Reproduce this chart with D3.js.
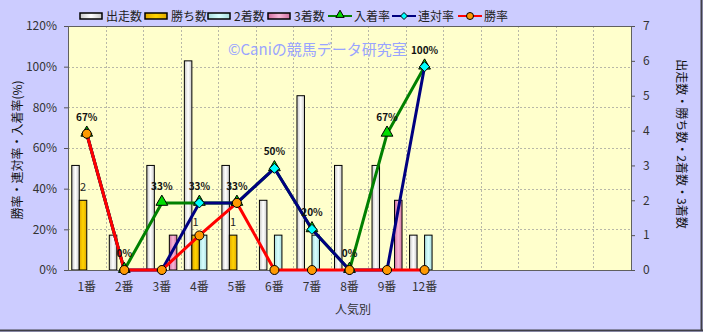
<!DOCTYPE html>
<html>
<head>
<meta charset="utf-8">
<script src="https://cdn.jsdelivr.net/npm/d3@7"></script>
<style>
  html, body { margin: 0; padding: 0; background: #fff; }
  svg { display: block; }
  text { font-family: "Noto Sans CJK JP", "DejaVu Sans", sans-serif; }
</style>
</head>
<body>
<svg id="chart" width="703" height="332"></svg>
<script>
// categories (15 slots on the axis, only the first 10 are used)
const categories = ["1番", "2番", "3番", "4番", "5番", "6番", "7番", "8番", "9番", "12番"];
const slotCount = 15;

// counts (right axis)
const starts = [3, 1, 3, 6, 3, 2, 5, 3, 3, 1];   // 出走数
const wins = [2, 0, 0, 1, 1, 0, 0, 0, 0, 0];     // 勝ち数
const seconds = [0, 0, 0, 1, 0, 1, 1, 0, 0, 1];  // 2着数
const thirds = [0, 0, 1, 0, 0, 0, 0, 0, 2, 0];   // 3着数

// rates in % (left axis)
const placeRate = [67, 0, 33, 33, 33, 50, 20, 0, 67, 100]; // 入着率
const quinellaRate = [67, 0, 0, 33, 33, 50, 20, 0, 0, 100]; // 連対率
const winRate = [67, 0, 0, 17, 33, 0, 0, 0, 0, 0];          // 勝率

const leftTicks = [0, 20, 40, 60, 80, 100, 120];
const rightTicks = [0, 1, 2, 3, 4, 5, 6, 7];

const W = 703, H = 332;
const plot = { left: 68, right: 631, top: 26, bottom: 270 };

const svg = d3.select("#chart");

// gradients for bars
const defs = svg.append("defs");
function barGrad(id, edge, mid) {
    const g = defs.append("linearGradient").attr("id", id)
        .attr("x1", "0%").attr("x2", "100%").attr("y1", "0%").attr("y2", "0%");
    g.append("stop").attr("offset", "0%").attr("stop-color", edge);
    g.append("stop").attr("offset", "50%").attr("stop-color", mid);
    g.append("stop").attr("offset", "100%").attr("stop-color", edge);
}
barGrad("g-white", "#c8c8c8", "#ffffff");
barGrad("g-gold", "#e0a800", "#ffd400");
barGrad("g-cyan", "#a8dcdc", "#d8ffff");
barGrad("g-pink", "#d070a0", "#f8b8d8");

// background
svg.append("rect").attr("x", 0).attr("y", 0).attr("width", W).attr("height", H).attr("fill", "#ccccff");
svg.append("line").attr("x1", 701.5).attr("x2", 701.5).attr("y1", 0).attr("y2", 331).attr("stroke", "#404048").attr("stroke-width", 2);
svg.append("line").attr("x1", 0).attr("x2", 703).attr("y1", 330.5).attr("y2", 330.5).attr("stroke", "#404048").attr("stroke-width", 2);

svg.append("rect")
    .attr("x", plot.left).attr("y", plot.top)
    .attr("width", plot.right - plot.left).attr("height", plot.bottom - plot.top)
    .attr("fill", "#ffffcc");

// scales
const x = d3.scaleBand().domain(d3.range(slotCount)).range([plot.left, plot.right]).padding(0);
const yL = d3.scaleLinear().domain([0, 120]).range([plot.bottom, plot.top]);
const yR = d3.scaleLinear().domain([0, 7]).range([plot.bottom, plot.top]);
const seriesKeys = ["starts", "wins", "seconds", "thirds"];
const sub = d3.scaleBand().domain(seriesKeys).range([0, 30]).padding(0);
const groupOffset = (x.bandwidth() - 30) / 2;

// gridlines
const grid = svg.append("g").attr("stroke", "#b8b8a8").attr("stroke-dasharray", "2,2").attr("stroke-width", 1);
leftTicks.slice(1, -1).forEach(t => {
    grid.append("line").attr("x1", plot.left).attr("x2", plot.right)
        .attr("y1", Math.round(yL(t)) + 0.5).attr("y2", Math.round(yL(t)) + 0.5);
});
d3.range(1, slotCount).forEach(i => {
    const gx = Math.round(x(i)) + 0.5;
    grid.append("line").attr("x1", gx).attr("x2", gx).attr("y1", plot.top).attr("y2", plot.bottom);
});

// bars
const barSeries = [
    { key: "starts", values: starts, fill: "url(#g-white)" },
    { key: "wins", values: wins, fill: "url(#g-gold)" },
    { key: "seconds", values: seconds, fill: "url(#g-cyan)" },
    { key: "thirds", values: thirds, fill: "url(#g-pink)" }
];
const barsG = svg.append("g");
barSeries.forEach(s => {
    barsG.selectAll(null).data(s.values.map((v, i) => ({ v, i })).filter(d => d.v > 0))
        .enter().append("rect")
        .attr("x", d => x(d.i) + groupOffset + sub(s.key))
        .attr("y", d => yR(d.v))
        .attr("width", sub.bandwidth())
        .attr("height", d => yR(0) - yR(d.v))
        .attr("fill", s.fill)
        .attr("stroke", "#000")
        .attr("stroke-width", 1);
});

// win count labels
barsG.selectAll(null).data(wins.map((v, i) => ({ v, i })).filter(d => d.v > 0))
    .enter().append("text")
    .attr("x", d => x(d.i) + groupOffset + sub("wins") + sub.bandwidth() / 2)
    .attr("y", d => yR(d.v) - 9)
    .attr("text-anchor", "middle")
    .attr("font-size", 11).attr("fill", "#222")
    .text(d => d.v);

// plot frame
svg.append("rect")
    .attr("x", plot.left + 0.5).attr("y", plot.top + 0.5)
    .attr("width", plot.right - plot.left).attr("height", plot.bottom - plot.top)
    .attr("fill", "none").attr("stroke", "#606060").attr("stroke-width", 1);

// lines
const cx = i => x(i) + x.bandwidth() / 2;
const lineSeries = [
    { name: "入着率", values: placeRate, color: "#008000", marker: "triangle", mfill: "#00dd00" },
    { name: "連対率", values: quinellaRate, color: "#000080", marker: "diamond", mfill: "#00ffff" },
    { name: "勝率", values: winRate, color: "#ff0000", marker: "circle", mfill: "#ff9900" }
];
function drawMarker(g, type, mx, my, fill) {
    if (type === "triangle") {
        g.append("path").attr("d", d3.symbol(d3.symbolTriangle, 60)()).attr("transform", `translate(${mx},${my - 1})`)
            .attr("fill", fill).attr("stroke", "#000").attr("stroke-width", 1);
    } else if (type === "diamond") {
        g.append("path").attr("d", `M0,-5L5,0L0,5L-5,0Z`).attr("transform", `translate(${mx},${my})`)
            .attr("fill", fill).attr("stroke", "#000").attr("stroke-width", 1);
    } else {
        g.append("circle").attr("cx", mx).attr("cy", my).attr("r", 4.5)
            .attr("fill", fill).attr("stroke", "#000").attr("stroke-width", 1);
    }
}
const linesG = svg.append("g");
const lineGen = d3.line().x((d, i) => cx(i)).y(d => yL(d));
lineSeries.forEach(s => {
    linesG.append("path").datum(s.values).attr("d", lineGen)
        .attr("fill", "none").attr("stroke", s.color).attr("stroke-width", 3);
});
lineSeries.forEach(s => {
    s.values.forEach((v, i) => drawMarker(linesG, s.marker, cx(i), yL(v), s.mfill));
});

// percent labels (入着率)
svg.append("g").selectAll("text").data(placeRate).enter().append("text")
    .attr("x", (d, i) => cx(i))
    .attr("y", d => yL(d) - 13)
    .attr("text-anchor", "middle")
    .attr("font-size", 10).attr("font-weight", "bold")
    .attr("font-family", "DejaVu Sans Mono, monospace")
    .attr("fill", "#111")
    .text(d => d + "%");

// watermark
svg.append("text").attr("x", 228).attr("y", 55)
    .attr("font-size", 15).attr("fill", "#99a4ff")
    .text("©Caniの競馬データ研究室");

// left axis
const axisL = svg.append("g").attr("transform", `translate(${plot.left},0)`)
    .call(d3.axisLeft(yL).tickValues(leftTicks).tickSize(4).tickFormat(d => d + "%"));
axisL.select(".domain").remove();
axisL.selectAll("text").attr("font-size", 12).attr("fill", "#333").attr("font-family", "Liberation Sans, Arial, sans-serif").attr("x", -11);
axisL.selectAll("line").attr("stroke", "#555");

// right axis
const axisR = svg.append("g").attr("transform", `translate(${plot.right},0)`)
    .call(d3.axisRight(yR).tickValues(rightTicks).tickSize(4).tickFormat(d3.format("d")));
axisR.select(".domain").remove();
axisR.selectAll("text").attr("font-size", 12).attr("fill", "#333").attr("font-family", "Liberation Sans, Arial, sans-serif").attr("x", 12);
axisR.selectAll("line").attr("stroke", "#555");

// x labels
svg.append("g").selectAll("text").data(categories).enter().append("text")
    .attr("x", (d, i) => cx(i))
    .attr("y", 291)
    .attr("text-anchor", "middle")
    .attr("font-size", 12).attr("fill", "#333")
    .text(d => d);

// axis titles
svg.append("text").attr("transform", "translate(22,150) rotate(-90)")
    .attr("text-anchor", "middle").attr("font-size", 12).attr("fill", "#111")
    .text("勝率・連対率・入着率(%)");
svg.append("text").attr("transform", "translate(677,144) rotate(90)")
    .attr("text-anchor", "middle").attr("font-size", 12).attr("fill", "#111")
    .text("出走数・勝ち数・2着数・3着数");
svg.append("text").attr("x", 353).attr("y", 314)
    .attr("text-anchor", "middle").attr("font-size", 12).attr("fill", "#333")
    .text("人気別");

// legend
const legend = svg.append("g");
const legendItems = [
    { label: "出走数", type: "bar", fill: "url(#g-white)", x: 80 },
    { label: "勝ち数", type: "bar", fill: "url(#g-gold)", x: 145 },
    { label: "2着数", type: "bar", fill: "url(#g-cyan)", x: 208 },
    { label: "3着数", type: "bar", fill: "url(#g-pink)", x: 268 },
    { label: "入着率", type: "line", s: lineSeries[0], x: 328 },
    { label: "連対率", type: "line", s: lineSeries[1], x: 392 },
    { label: "勝率", type: "line", s: lineSeries[2], x: 458 }
];
const ly = 16;
legendItems.forEach(it => {
    if (it.type === "bar") {
        legend.append("rect").attr("x", it.x).attr("y", ly - 3).attr("width", 22).attr("height", 6)
            .attr("fill", it.fill).attr("stroke", "#000").attr("stroke-width", 1.5);
    } else {
        legend.append("line").attr("x1", it.x).attr("x2", it.x + 24).attr("y1", ly).attr("y2", ly)
            .attr("stroke", it.s.color).attr("stroke-width", 2);
        const mg = legend.append("g");
        if (it.s.marker === "triangle") {
            mg.append("path").attr("d", d3.symbol(d3.symbolTriangle, 30)()).attr("transform", `translate(${it.x + 12},${ly - 1})`)
                .attr("fill", it.s.mfill).attr("stroke", "#000");
        } else if (it.s.marker === "diamond") {
            mg.append("path").attr("d", "M0,-3.5L3.5,0L0,3.5L-3.5,0Z").attr("transform", `translate(${it.x + 12},${ly})`)
                .attr("fill", it.s.mfill).attr("stroke", "#000");
        } else {
            mg.append("circle").attr("cx", it.x + 12).attr("cy", ly).attr("r", 3.5)
                .attr("fill", it.s.mfill).attr("stroke", "#000");
        }
    }
    legend.append("text").attr("x", it.x + 26).attr("y", ly + 5)
        .attr("font-size", 12).attr("fill", "#222")
        .text(it.label);
});
</script>
</body>
</html>
